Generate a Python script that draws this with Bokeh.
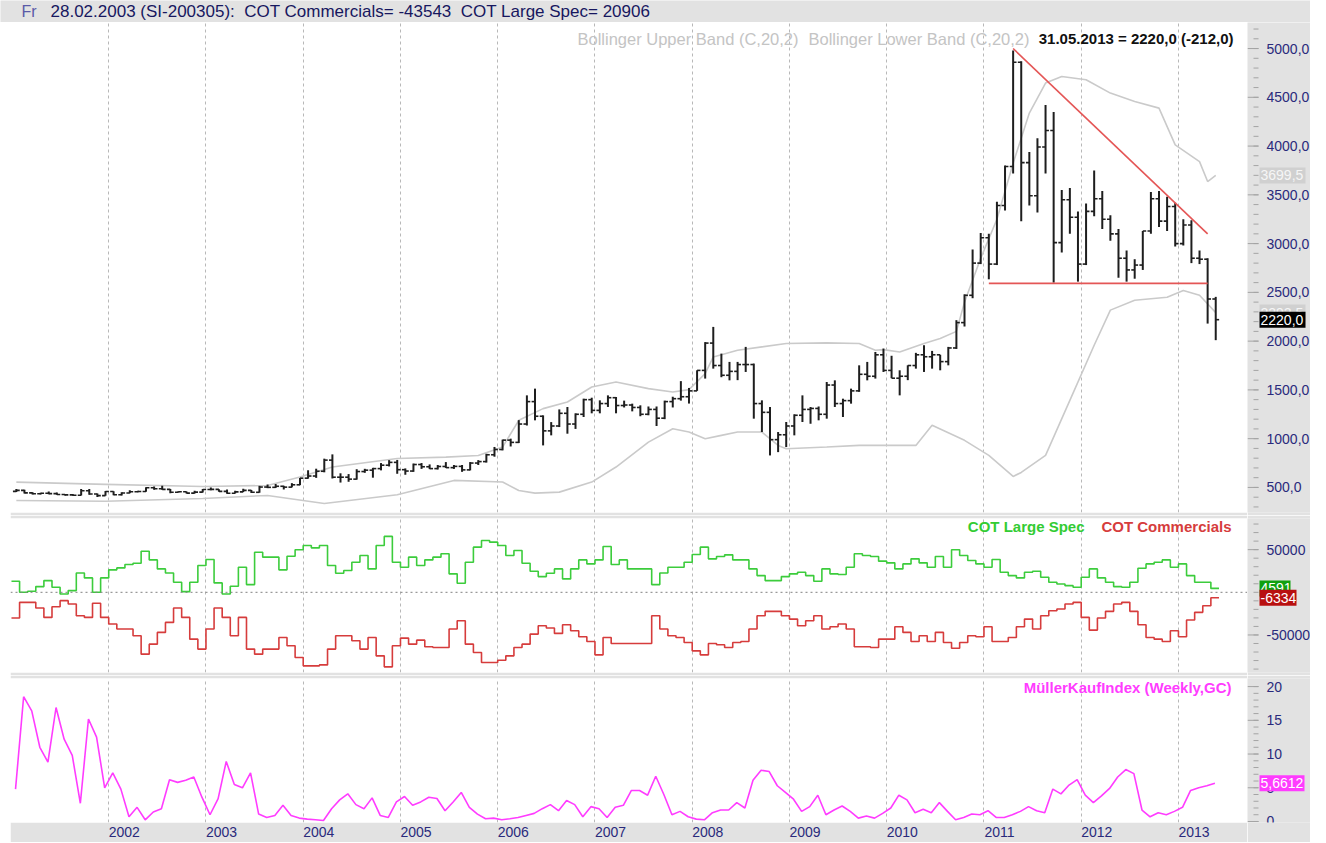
import numpy as np
from bokeh.plotting import figure
from bokeh.models import (Range1d, FixedTicker, CustomJSTickFormatter, Span, Label, Grid, Spacer)
from bokeh.core.properties import value
from bokeh.layouts import column, row
from bokeh.embed import file_html
from bokeh.resources import INLINE

# ---------------- data (monthly, Jan 2001 .. May 2013) ----------------
START_YEAR = 2001
year_ticks = list(range(2002, 2014))

price_open = [
    460, 470, 444, 436, 440, 437, 428, 424, 420, 466, 432, 416,
    459, 425, 443, 455, 458, 496, 487, 480, 450, 455, 442, 452,
    479, 480, 460, 441, 454, 470, 450, 504, 501, 512, 503, 527,
    595, 617, 666, 780, 605, 605, 585, 663, 677, 693, 728, 757,
    682, 668, 735, 712, 693, 715, 703, 716, 680, 750, 765, 835,
    889, 985, 962, 1150, 1380, 1230, 1080, 1130, 1260, 1150, 1250, 1400,
    1290, 1360, 1420, 1340, 1345, 1320, 1250, 1300, 1210, 1380, 1410, 1430,
    1490, 1700, 1980, 1750, 1650, 1690, 1760, 1760, 1360, 1270, 990, 1040,
    1130, 1240, 1300, 1310, 1250, 1550, 1360, 1390, 1490, 1660, 1640, 1860,
    1700, 1620, 1640, 1750, 1860, 1840, 1860, 1790, 1930, 2190, 2470, 2800,
    3060, 2790, 3390, 3790, 4860, 3830, 3490, 3990, 4160, 3010, 3450, 3270,
    2790, 3330, 3460, 3250, 3100, 2850, 2730, 2780, 3130, 3460, 3230, 3380,
    3000, 3190, 2850, 2840, 2432]
price_high = [
    485, 475, 450, 446, 458, 447, 433, 430, 484, 484, 438, 463,
    462, 450, 470, 465, 502, 510, 516, 485, 462, 458, 465, 483,
    500, 482, 480, 466, 486, 473, 516, 530, 535, 517, 544, 597,
    676, 692, 795, 839, 645, 637, 687, 691, 701, 750, 780, 782,
    695, 745, 750, 736, 730, 760, 730, 730, 760, 780, 845, 915,
    990, 1000, 1190, 1444, 1513, 1239, 1170, 1300, 1325, 1260, 1410, 1420,
    1393, 1444, 1427, 1390, 1359, 1342, 1330, 1330, 1390, 1430, 1590, 1520,
    1701, 1990, 2146, 1872, 1787, 1787, 1941, 1770, 1393, 1325, 1068, 1171,
    1250, 1444, 1325, 1330, 1581, 1598, 1410, 1513, 1752, 1787, 1889, 1924,
    1850, 1701, 1752, 1880, 1958, 1900, 1860, 1941, 2215, 2480, 2940, 3110,
    3100, 3430, 3800, 4980, 4870, 3940, 4080, 4420, 4350, 3550, 3570, 3330,
    3410, 3750, 3540, 3290, 3150, 2930, 2840, 3130, 3530, 3540, 3480, 3420,
    3250, 3240, 2930, 2850, 2454]
price_low = [
    452, 438, 428, 428, 430, 424, 417, 415, 418, 425, 403, 414,
    420, 418, 440, 450, 455, 475, 475, 440, 448, 438, 437, 447,
    470, 455, 435, 438, 452, 442, 446, 493, 495, 479, 501, 523,
    590, 598, 655, 592, 550, 558, 580, 650, 600, 675, 715, 640,
    630, 660, 690, 688, 684, 700, 690, 660, 675, 730, 755, 815,
    880, 920, 955, 1135, 1188, 931, 1034, 1119, 1051, 1100, 1222, 1260,
    1260, 1325, 1260, 1320, 1280, 1230, 1240, 1130, 1200, 1320, 1390, 1360,
    1490, 1616, 1718, 1630, 1598, 1600, 1684, 1205, 1068, 828, 862, 914,
    1034, 1171, 1153, 1188, 1205, 1325, 1222, 1359, 1480, 1598, 1616, 1684,
    1620, 1444, 1600, 1718, 1684, 1718, 1701, 1752, 1920, 2150, 2440, 2790,
    2634, 2780, 3340, 3720, 3230, 3390, 3320, 3720, 2600, 2910, 3100, 2610,
    2780, 3280, 3150, 3030, 2650, 2610, 2640, 2730, 3100, 3170, 3130, 2970,
    2980, 2800, 2790, 2180, 2010]
price_close = [
    470, 444, 436, 440, 437, 428, 424, 420, 466, 432, 416, 459,
    425, 443, 455, 458, 496, 487, 480, 450, 455, 442, 452, 479,
    480, 460, 441, 454, 470, 450, 504, 501, 512, 503, 527, 595,
    617, 666, 780, 605, 605, 585, 663, 677, 693, 728, 757, 682,
    668, 735, 712, 693, 715, 703, 716, 680, 750, 765, 835, 889,
    985, 962, 1150, 1380, 1230, 1080, 1130, 1260, 1150, 1250, 1400, 1290,
    1360, 1420, 1340, 1345, 1320, 1250, 1300, 1210, 1380, 1410, 1430, 1490,
    1700, 1980, 1750, 1650, 1690, 1760, 1760, 1360, 1270, 990, 1040, 1130,
    1240, 1300, 1310, 1250, 1550, 1360, 1390, 1490, 1660, 1640, 1860, 1700,
    1620, 1640, 1750, 1860, 1840, 1860, 1790, 1930, 2190, 2470, 2800, 3060,
    2790, 3390, 3790, 4860, 3830, 3490, 3990, 4160, 3010, 3450, 3270, 2790,
    3330, 3460, 3250, 3100, 2850, 2730, 2780, 3130, 3460, 3230, 3380, 3000,
    3190, 2850, 2840, 2432, 2220]

# Bollinger bands (month index -> value)
bb_upper_idx = [0, 11, 23, 31, 35, 39, 47, 53, 57, 60, 62, 65, 68, 71, 74, 78, 81, 83, 85, 86,
                89, 92, 95, 100, 104, 106, 107, 109, 112, 114, 116, 117, 119, 121, 123, 125,
                127, 129, 132, 135, 138, 141, 143, 146, 147, 148]
bb_upper_val = [554, 531, 510, 520, 606, 709, 797, 811, 828, 914, 1188, 1308, 1376, 1530, 1581,
                1513, 1479, 1503, 1667, 1838, 1907, 1941, 1975, 1982, 1975, 1907, 1913, 1889,
                1975, 2026, 2100, 2400, 2850, 3250, 3824, 4338, 4646, 4714, 4680, 4543, 4457,
                4389, 4012, 3841, 3636, 3699.5]
bb_lower_idx = [0, 11, 23, 31, 38, 47, 54, 60, 62, 64, 67, 71, 74, 78, 81, 83, 85, 87, 89, 92,
                94, 95, 100, 104, 107, 111, 113, 117, 120, 123, 124, 127, 130, 133, 135, 138,
                142, 144, 146, 148]
bb_lower_val = [366, 359, 387, 418, 336, 425, 572, 555, 469, 442, 452, 555, 709, 965, 1102,
                1068, 999, 1034, 1068, 1068, 931, 897, 914, 931, 931, 931, 1137, 983, 829, 613,
                654, 829, 1393, 1958, 2318, 2420, 2450, 2520, 2470, 2292.5]

# triangle trend lines (month index, price)
resistance_idx = [123, 147]
resistance_val = [5000, 3100]
support_idx = [120, 147]
support_val = [2592, 2592]

# COT net positions, thousands of contracts
cot_large_spec_k = [
    12.9, 0.0, 1.2, 6.7, 13.7, 5.9, -2.0, 2.0, 22.7, 16.9, 0.0, 16.9,
    26.3, 28.6, 32.5, 34.1, 48.2, 38.0, 27.4, 22.7, 11.8, 0.8, 11.8, 31.4,
    38.4, 11.0, -2.0, 7.1, 29.4, 9.0, 47.0, 41.2, 41.2, 26.3, 42.3, 49.8,
    54.9, 52.1, 54.9, 31.4, 22.3, 25.5, 35.3, 43.1, 27.4, 54.9, 65.5, 35.3,
    29.4, 41.2, 31.4, 38.0, 41.2, 45.1, 21.6, 10.6, 35.3, 52.9, 60.8, 58.8,
    54.9, 43.1, 49.0, 34.1, 24.7, 18.4, 22.3, 27.4, 15.7, 27.4, 38.0, 33.3,
    38.0, 53.7, 32.5, 38.0, 27.4, 27.4, 27.4, 9.0, 22.7, 29.4, 29.4, 35.3,
    44.3, 52.9, 39.2, 41.9, 43.9, 38.0, 38.0, 27.4, 19.6, 13.7, 13.7, 18.4,
    21.6, 23.5, 19.6, 12.9, 27.4, 21.6, 20.8, 29.4, 45.1, 43.1, 41.9, 36.5,
    34.5, 27.4, 33.3, 39.2, 34.5, 29.4, 41.9, 29.4, 49.8, 43.1, 37.2, 33.3,
    29.4, 38.4, 23.5, 19.6, 16.9, 23.5, 24.7, 17.6, 11.8, 9.8, 7.8, 5.9,
    17.6, 27.4, 16.9, 11.8, 6.7, 5.9, 11.8, 28.2, 33.3, 35.3, 38.0, 29.4,
    33.3, 19.6, 11.8, 11.8, 4.591]
cot_commercials_k = [
    -30.2, -11.8, -11.8, -18.4, -29.4, -16.9, -9.8, -13.7, -27.4, -29.4, -12.9, -29.4,
    -37.2, -43.1, -43.1, -51.0, -72.5, -60.8, -47.0, -35.3, -18.4, -29.4, -54.9, -66.6,
    -43.1, -18.4, -29.4, -51.0, -29.4, -66.6, -72.5, -66.6, -66.6, -52.9, -62.7, -76.4,
    -86.2, -86.2, -85.1, -66.6, -51.0, -51.0, -56.8, -66.6, -52.9, -74.5, -87.4, -62.7,
    -53.7, -60.8, -56.1, -63.9, -64.7, -64.7, -43.1, -33.3, -60.8, -70.6, -82.3, -82.3,
    -79.6, -74.5, -64.7, -60.8, -49.0, -39.2, -41.9, -48.2, -38.0, -45.1, -52.1, -57.6,
    -73.3, -52.9, -60.0, -60.0, -60.0, -60.0, -60.0, -27.4, -43.1, -51.0, -52.9, -58.8,
    -68.6, -73.3, -60.0, -61.5, -64.7, -58.8, -57.6, -43.1, -27.4, -22.3, -22.3, -27.4,
    -31.4, -39.2, -33.3, -27.4, -43.1, -40.4, -37.2, -43.1, -63.9, -63.9, -64.7, -54.9,
    -54.9, -40.4, -47.0, -57.6, -51.0, -57.6, -47.0, -58.8, -65.5, -58.8, -51.0, -52.1,
    -40.4, -57.6, -57.6, -52.9, -40.4, -31.4, -43.1, -27.4, -21.6, -19.6, -13.7, -11.8,
    -29.4, -44.3, -30.2, -22.3, -13.7, -11.8, -22.3, -38.0, -52.9, -54.9, -57.6, -45.1,
    -52.1, -32.5, -23.5, -15.7, -6.334]

mueller_kauf_index = [
    4.8, 18.5, 16.4, 11.0, 8.8, 16.9, 12.2, 9.8, 2.7, 15.2, 12.5, 5.0,
    7.2, 4.8, 0.7, 2.1, 0.25, 1.4, 1.9, 6.2, 5.8, 6.1, 6.6, 3.6,
    1.0, 3.4, 8.9, 5.5, 5.0, 7.2, 1.1, 0.6, 0.9, 2.4, 0.9, 0.5,
    0.35, 0.25, 0.15, 1.9, 3.2, 4.1, 2.5, 1.9, 3.5, 0.9, 0.6, 2.9,
    3.7, 2.4, 2.9, 3.6, 3.4, 1.6, 2.9, 4.3, 2.1, 1.1, 0.4, 0.5,
    0.25, 0.4, 0.6, 0.9, 1.2, 1.9, 2.5, 1.6, 3.1, 2.5, 0.7, 2.2,
    1.9, 0.6, 2.1, 2.4, 4.6, 4.6, 3.9, 6.7, 4.0, 1.0, 1.5, 0.7,
    0.35, 0.25, 1.3, 1.7, 1.7, 2.8, 2.0, 6.1, 7.6, 7.4, 5.3, 4.3,
    3.3, 1.5, 2.2, 3.9, 1.0, 1.7, 2.3, 1.5, 0.5, 0.8, 0.5, 1.2,
    2.0, 3.9, 3.2, 1.3, 1.8, 1.3, 2.8, 1.5, 0.25, 0.6, 1.1, 1.0,
    1.6, 0.6, 0.6, 1.0, 1.5, 2.2, 1.6, 1.3, 4.8, 4.1, 5.4, 6.2,
    3.9, 2.8, 3.8, 4.9, 6.6, 7.7, 7.1, 1.7, 0.7, 1.3, 1.0, 1.5,
    2.1, 4.6, 5.0, 5.3, 5.6612]

price_ticks = [500, 1000, 1500, 2000, 2500, 3000, 3500, 4000, 4500, 5000]
price_minor = list(range(300, 5300, 100))
cot_ticks = [-50000, 50000]
cot_minor = list(range(-90000, 90000, 10000))
mki_ticks = [0, 5, 10, 15, 20]
mki_minor = list(range(0, 21))

NB = "\u00a0"
header_day = "Fr"
header_text = ("28.02.2003 (SI-200305):" + NB * 2 + "COT Commercials= -43543" + NB * 2 +
               "COT Large Spec= 20906")
last_bar_text = "31.05.2013 = 2220,0 (-212,0)"
upper_band_text = "Bollinger Upper Band (C,20,2)"
lower_band_text = "Bollinger Lower Band (C,20,2)"

# ---------------- styling ----------------
GRAY = "#e2e2e2"
NAVY = "#2a2a7c"
FONT = "Liberation Sans"
LM = 10          # white left margin
FW = 1237        # main frame width
SW = 63          # right scale column width
X0, X1 = 2000.99, 2013.71

n = len(price_close)
m_idx = np.arange(n)
t_bar = START_YEAR + (m_idx + 0.6) / 12.0
t_mid = START_YEAR + (m_idx + 0.5) / 12.0
t_step = START_YEAR + np.arange(n + 1) / 12.0
TICK = 0.035

xr = Range1d(X0, X1)


def make_fig(fh, yr, top, bottom, xaxis=False):
    p = figure(frame_width=FW, frame_height=fh, x_range=xr, y_range=yr,
               x_axis_location="below" if xaxis else None, y_axis_location=None,
               toolbar_location=None, output_backend="svg",
               min_border_left=0, min_border_right=0, min_border_top=top,
               min_border_bottom=bottom, background_fill_color="white",
               border_fill_color=GRAY, outline_line_color=None)
    p.xgrid.visible = False
    p.ygrid.visible = False
    p.add_layout(Grid(dimension=0, ticker=FixedTicker(ticks=year_ticks),
                      grid_line_color="#b8b8b8", grid_line_dash="3 3", grid_line_width=1))
    return p


def make_scale(fh, yr, top, bottom, ticks, minor, labels):
    """Right-hand scale column sharing the panel's y range."""
    s = figure(frame_width=SW, frame_height=fh, x_range=Range1d(0, SW), y_range=yr,
               x_axis_location=None, y_axis_location=None, toolbar_location=None,
               output_backend="svg", min_border_left=0, min_border_right=0,
               min_border_top=top, min_border_bottom=bottom,
               background_fill_color=GRAY, border_fill_color=GRAY, outline_line_color=None)
    s.xgrid.visible = False
    s.ygrid.visible = False
    s.segment(x0=[0] * len(ticks), y0=ticks, x1=[11] * len(ticks), y1=ticks,
              line_color="#a4a4a4", line_width=1)
    s.segment(x0=[6] * len(minor), y0=minor, x1=[11] * len(minor), y1=minor,
              line_color="#a4a4a4", line_width=1)
    s.text(x=[19] * len(ticks), y=ticks, text=labels, text_font=value(FONT),
           text_font_size="14px", text_color=NAVY, text_baseline="middle", text_align="left")
    return s


def tag(s, y, text, bg, fg, w):
    s.rect(x=[12 + w / 2.0], y=[y], width=w, height=16, height_units="screen",
           fill_color=bg, line_color=None)
    s.text(x=[13], y=[y], text=[text], text_font=value(FONT), text_font_size="14px",
           text_color=fg, text_baseline="middle", text_align="left")


def note(p, y, yoff, xoff, text, color, bold=True, size="15px"):
    p.add_layout(Label(x=X1, y=y, x_offset=xoff, y_offset=yoff, text=text,
                       text_align="right", text_baseline="middle", text_font=FONT,
                       text_font_size=size, text_color=color,
                       text_font_style="bold" if bold else "normal"))


# ---------------- header strip ----------------
HW = LM + FW + SW
hdr = figure(frame_width=HW, frame_height=22, x_range=Range1d(0, HW),
             y_range=Range1d(0, 22), x_axis_location=None, y_axis_location=None,
             toolbar_location=None, output_backend="svg", min_border=0,
             background_fill_color=GRAY, border_fill_color=GRAY, outline_line_color=None)
hdr.xgrid.visible = False
hdr.ygrid.visible = False
hdr.add_layout(Label(x=21, y=11, text=header_day, text_baseline="middle", text_align="left",
                     text_font=FONT, text_font_size="16px", text_color="#5a5aa8"))
hdr.add_layout(Label(x=50, y=11, text=header_text, text_baseline="middle", text_align="left",
                     text_font=FONT, text_font_size="17px", text_color="#17175f"))

# ---------------- price panel ----------------
yr1 = Range1d(243, 5267)
p1 = make_fig(490, yr1, top=0, bottom=3)

ub_x = START_YEAR + (np.array(bb_upper_idx) + 0.6) / 12.0
lb_x = START_YEAR + (np.array(bb_lower_idx) + 0.6) / 12.0
p1.line(ub_x, bb_upper_val, line_color="#cacaca", line_width=1.6)
p1.line(lb_x, bb_lower_val, line_color="#cacaca", line_width=1.6)

bar_col = "#1e1e1e"
p1.segment(x0=t_bar, y0=price_low, x1=t_bar, y1=price_high, line_color=bar_col, line_width=2)
p1.segment(x0=t_bar - TICK, y0=price_open, x1=t_bar, y1=price_open, line_color=bar_col, line_width=1.6)
p1.segment(x0=t_bar, y0=price_close, x1=t_bar + TICK, y1=price_close, line_color=bar_col, line_width=1.6)

rx = START_YEAR + (np.array(resistance_idx) + 0.6) / 12.0
sx = START_YEAR + (np.array(support_idx) + 0.6) / 12.0
p1.line(rx, resistance_val, line_color="#e45656", line_width=1.6)
p1.line(sx, support_val, line_color="#e45656", line_width=1.6)

note(p1, 5267, -16, -14, last_bar_text, "#111111", bold=True, size="15px")
note(p1, 5267, -16, -218, lower_band_text, "#c4c4c4", bold=False, size="16.5px")
note(p1, 5267, -16, -449, upper_band_text, "#c4c4c4", bold=False, size="16.5px")

s1 = make_scale(490, yr1, 0, 3, price_ticks, price_minor,
                [f"{v:.1f}".replace(".", ",") for v in price_ticks])
tag(s1, bb_upper_val[-1], f"{bb_upper_val[-1]:.1f}".replace(".", ","), "#d0d0d0", "#f6f6f6", 46)
tag(s1, bb_lower_val[-1], f"{bb_lower_val[-1]:.1f}".replace(".", ","), "#d0d0d0", "#f6f6f6", 46)
tag(s1, price_close[-1], f"{price_close[-1]:.1f}".replace(".", ","), "#000000", "#ffffff", 46)

# ---------------- COT panel ----------------
yr2 = Range1d(-94000, 86500)
p2 = make_fig(154, yr2, top=3, bottom=3)
spec = np.array(cot_large_spec_k) * 1000.0
comm = np.array(cot_commercials_k) * 1000.0
p2.add_layout(Span(location=0, dimension="width", line_color="#808080",
                   line_dash="2 3", line_width=1))
p2.step(t_step, np.append(spec, spec[-1]), mode="after", line_color="#3ccc3c", line_width=1.6)
p2.step(t_step, np.append(comm, comm[-1]), mode="after", line_color="#d63c3c", line_width=1.6)
note(p2, 86500, -8, -16, "COT Commercials", "#d63c3c")
note(p2, 86500, -8, -163, "COT Large Spec", "#33cc33")

s2 = make_scale(154, yr2, 3, 3, cot_ticks, cot_minor, [f"{v:d}" for v in cot_ticks])
tag(s2, spec[-1], f"{spec[-1]:.0f}", "#10a010", "#ffffff", 31)
tag(s2, comm[-1], f"{comm[-1]:.0f}", "#b81010", "#ffffff", 37)

# ---------------- Mueller panel ----------------
yr3 = Range1d(-0.15, 21.2)
p3 = make_fig(144, yr3, top=3, bottom=20, xaxis=True)
p3.line(t_mid, mueller_kauf_index, line_color="#ff3cff", line_width=1.6)
note(p3, 21.2, -9, -16, "MüllerKaufIndex (Weekly,GC)", "#ff3cff")

xa = p3.xaxis[0]
xa.ticker = FixedTicker(ticks=[y + 0.16 for y in year_ticks])
xa.formatter = CustomJSTickFormatter(code="return Math.floor(tick + 0.01).toString();")
xa.axis_line_color = None
xa.major_tick_line_color = None
xa.minor_tick_line_color = None
xa.major_tick_out = 0
xa.major_tick_in = 0
xa.major_label_standoff = 4
xa.major_label_text_color = NAVY
xa.major_label_text_font = FONT
xa.major_label_text_font_size = "14px"

s3 = make_scale(144, yr3, 3, 20, mki_ticks, mki_minor, [f"{v:d}" for v in mki_ticks])
tag(s3, mueller_kauf_index[-1], f"{mueller_kauf_index[-1]:.4f}".replace(".", ","),
    "#ff3cff", "#ffffff", 45)

layout = column(hdr,
                row(Spacer(width=LM, height=10), p1, s1, spacing=0),
                row(Spacer(width=LM, height=10), p2, s2, spacing=0),
                row(Spacer(width=LM, height=10), p3, s3, spacing=0),
                spacing=0)
open("out.html", "w").write(file_html(layout, INLINE))
